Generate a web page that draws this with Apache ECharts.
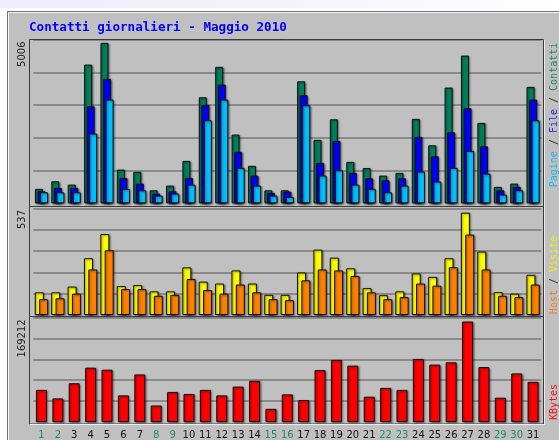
<!DOCTYPE html>
<html>
<head>
<meta charset="utf-8">
<script src="https://cdn.jsdelivr.net/npm/echarts@6/dist/echarts.min.js"></script>
<style>
body{margin:0;background:#fff;}
#main{width:559px;height:440px;}
</style>
</head>
<body>
<div id="main"></div>
<script>
//dati maggio 2010
var giorni = ['1','2','3','4','5','6','7','8','9','10','11','12','13','14','15','16','17','18','19','20','21','22','23','24','25','26','27','28','29','30','31'];
var festivi = ['1','2','8','9','15','16','22','23','29','30'];
var contatti = [449,686,583,4327,5006,1051,980,406,552,1323,3307,4256,2143,1167,406,406,3806,1978,2621,1292,1098,864,948,2633,1810,3610,4608,2508,512,615,3632];
var file = [374,480,480,3026,3881,792,615,303,374,792,3070,3703,1604,864,324,365,3370,1260,1947,948,780,718,780,2072,1466,2215,2964,1778,406,512,3235];
var pagine = [343,343,343,2175,3235,449,406,240,303,583,2590,3235,1104,552,240,200,3058,864,1030,583,449,343,552,989,677,1104,1635,927,271,406,2590];
var visite = [119,119,149,298,425,152,157,124,124,250,175,165,234,165,106,106,223,343,301,245,141,104,124,218,200,298,537,333,120,112,211];
var host = [83,88,112,239,340,136,136,101,106,189,131,112,160,119,83,78,182,239,234,205,119,83,94,165,154,251,422,239,101,94,160];
var kbytes = [54020,39700,65270,91510,88100,44820,80090,27780,50610,47200,54020,44820,59640,69350,22150,46520,36980,87420,104460,94910,42600,57430,54020,106160,96620,100540,169212,92530,40900,81790,67650];
var massimi = ['5006','537','169212'];

var chart = echarts.init(document.getElementById('main'));

var barStyle = function(c){
	return {
		color: c,
		borderColor: '#111',
		borderWidth: 1,
		shadowColor: 'rgba(0,0,0,0.45)',
		shadowBlur: 2,
		shadowOffsetX: 1,
		shadowOffsetY: 1
	};
};
var yAx = function(idx, max){
	return {
		type: 'value', gridIndex: idx, min: 0, max: max, interval: max / 5,
		axisLabel: {show: false}, axisLine: {show: false}, axisTick: {show: false},
		splitLine: {show: true, showMinLine: false, lineStyle: {color: '#8a8a8a', width: 2}}
	};
};
var xAx = function(idx, show){
	return {
		type: 'category', gridIndex: idx, data: giorni,
		axisLine: {show: false}, axisTick: {show: false},
		axisLabel: {
			show: show, interval: 0, margin: 8,
			fontFamily: 'DejaVu Sans', fontSize: 10,
			color: function(v){ return festivi.indexOf(v) >= 0 ? '#1f8a66' : '#111'; }
		}
	};
};
var txt = function(x, y, s, font, fill, align, rot){
	return {
		type: 'text', x: x, y: y, rotation: rot || 0, z: 100,
		style: {text: s, font: font, fill: fill, textAlign: align || 'left', textVerticalAlign: 'middle'}
	};
};
var rich = function(x, y, s, r){
	return {
		type: 'text', x: x, y: y, rotation: Math.PI / 2, z: 100,
		style: {text: s, font: '10px "DejaVu Sans Mono"', textAlign: 'center', textVerticalAlign: 'middle', rich: r}
	};
};
var lineEl = function(x1, y1, x2, y2, c){
	return {type: 'line', z: 100, shape: {x1: x1, y1: y1, x2: x2, y2: y2}, style: {stroke: c, lineWidth: 1}};
};

var option = {
	animation: false,
	backgroundColor: '#c0c0c0',
	grid: [
		{left: 33.3, width: 508, top: 39.5, height: 163.8},
		{left: 33.3, width: 508, top: 208.3, height: 106.7},
		{left: 33.3, width: 508, top: 317.5, height: 106}
	],
	xAxis: [xAx(0, false), xAx(1, false), xAx(2, true)],
	yAxis: [yAx(0, 5110), yAx(1, 560), yAx(2, 176000)],
	series: [
		{name: 'Contatti', type: 'bar', xAxisIndex: 0, yAxisIndex: 0, barWidth: 8, barGap: '-68%', itemStyle: barStyle('#00805a'), data: contatti},
		{name: 'File', type: 'bar', xAxisIndex: 0, yAxisIndex: 0, barWidth: 8, barGap: '-68%', itemStyle: barStyle('#0000ff'), data: file},
		{name: 'Pagine', type: 'bar', xAxisIndex: 0, yAxisIndex: 0, barWidth: 8, barGap: '-68%', itemStyle: barStyle('#00c0ff'), data: pagine},
		{name: 'Visite', type: 'bar', xAxisIndex: 1, yAxisIndex: 1, barWidth: 9, barGap: '-52%', itemStyle: barStyle('#ffff00'), data: visite},
		{name: 'Host', type: 'bar', xAxisIndex: 1, yAxisIndex: 1, barWidth: 9, barGap: '-52%', itemStyle: barStyle('#ff8000'), data: host},
		{name: 'KBytes', type: 'bar', xAxisIndex: 2, yAxisIndex: 2, barWidth: 11, itemStyle: barStyle('#ff0000'), data: kbytes}
	],
	graphic: [
		//cornice esterna
		{type: 'rect', z: 90, shape: {x: 0, y: 0, width: 559, height: 11}, style: {fill: '#fff'}},
		{type: 'rect', z: 91, shape: {x: 0, y: 0, width: 559, height: 8},
			style: {fill: new echarts.graphic.LinearGradient(0, 0, 1, 0, [{offset: 0, color: '#ededfb'}, {offset: 0.5, color: '#f3f3fc'}, {offset: 1, color: '#ffffff'}])}},
		{type: 'rect', z: 90, shape: {x: 0, y: 0, width: 7, height: 440}, style: {fill: '#fff'}},
		{type: 'rect', z: 92, shape: {x: 7.5, y: 11.5, width: 560, height: 440}, style: {fill: 'none', stroke: '#707070', lineWidth: 1}},
		lineEl(8.5, 12.5, 559, 12.5, '#f4f4f4'),
		lineEl(8.5, 12.5, 8.5, 440, '#f4f4f4'),
		//riquadri
		{type: 'rect', z: 100, shape: {x: 29.5, y: 39.5, width: 514, height: 384.5}, style: {fill: 'none', stroke: '#3a3a3a', lineWidth: 1}},
		lineEl(29.5, 206.5, 543.5, 206.5, '#3a3a3a'),
		lineEl(29.5, 316.5, 543.5, 316.5, '#3a3a3a'),
		lineEl(544.5, 40, 544.5, 425, '#ececec'),
		lineEl(30, 424.5, 544.5, 424.5, '#ececec'),
		//titolo
		txt(29, 27.5, 'Contatti giornalieri - Maggio 2010', 'bold 12.6px "DejaVu Sans Mono"', '#0000ff'),
		//massimi
		txt(22, 41.5, massimi[0], '10px "DejaVu Sans"', '#222', 'right', Math.PI / 2),
		txt(22, 210, massimi[1], '10px "DejaVu Sans"', '#222', 'right', Math.PI / 2),
		txt(22, 319.3, massimi[2], '10px "DejaVu Sans"', '#222', 'right', Math.PI / 2),
		//legende
		rich(554.5, 115, '{p|Pagine}{s| / }{f|File}{s| / }{c|Contatti}', {
			p: {fill: '#10b8f0'}, s: {fill: '#333'}, f: {fill: '#2020e0'}, c: {fill: '#1a8a68'}
		}),
		rich(554.5, 275, '{h|Host}{s| / }{v|Visite}', {
			h: {fill: '#f08020'}, s: {fill: '#333'}, v: {fill: '#f0f000'}
		}),
		rich(554.5, 402, '{k|KBytes}', {k: {fill: '#f01010'}})
	]
};
chart.setOption(option);
</script>
</body>
</html>
